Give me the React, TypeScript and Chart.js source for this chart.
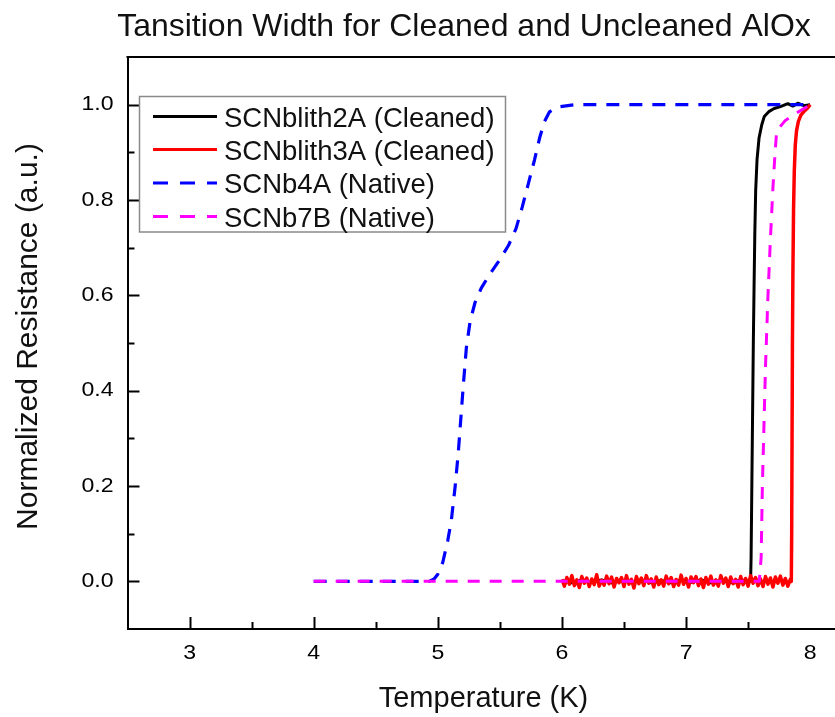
import React, { useEffect, useRef } from 'react';
import { Chart, registerables } from 'chart.js';

Chart.register(...registerables);

// ---------------- data ----------------
const TITLE = 'Tansition Width for Cleaned and Uncleaned AlOx';
const X_TITLE = 'Temperature (K)';
const Y_TITLE = 'Normalized Resistance (a.u.)';

const X_MIN = 2.5;
const X_MAX = 8.2;
const X_STEP = 0.5;
const Y_MIN = -0.1;
const Y_MAX = 1.1;
const Y_STEP = 0.1;

const X_MAJOR = [3, 4, 5, 6, 7, 8];
const X_LABELS = ['3', '4', '5', '6', '7', '8'];
const Y_MAJOR = [0, 0.2, 0.4, 0.6, 0.8, 1.0];
const Y_LABELS = ['0.0', '0.2', '0.4', '0.6', '0.8', '1.0'];

const NAMES = [
  'SCNblith2A (Cleaned)',
  'SCNblith3A (Cleaned)',
  'SCNb4A (Native)',
  'SCNb7B (Native)',
];

// [temperature K, normalized resistance]
const SCNblith2A: [number, number][] = [
  [6.00, 0.002], [6.08, -0.003], [6.16, 0.003], [6.24, -0.002], [6.32, 0.003],
  [6.40, -0.003], [6.48, 0.002], [6.56, -0.002], [6.64, 0.003], [6.72, -0.003],
  [6.80, 0.002], [6.88, -0.003], [6.96, 0.003], [7.04, -0.002], [7.12, 0.003],
  [7.20, -0.003], [7.28, 0.002], [7.36, -0.003], [7.44, 0.003], [7.52, 0.0],
  [7.524, 0.05], [7.53, 0.2], [7.536, 0.35], [7.542, 0.5], [7.548, 0.62],
  [7.554, 0.73], [7.561, 0.82], [7.572, 0.885], [7.588, 0.93], [7.61, 0.958],
  [7.63, 0.975], [7.67, 0.986], [7.71, 0.992], [7.76, 0.996], [7.82, 1.002],
  [7.86, 0.997], [7.90, 1.003], [7.95, 0.998], [8.00, 1.0],
];

const SCNblith3A: [number, number][] = [
  [6.00, 0.004], [6.02, -0.010], [6.04, 0.008], [6.06, -0.006], [6.08, 0.012],
  [6.10, -0.009], [6.12, 0.003], [6.14, -0.013], [6.16, 0.010], [6.18, -0.004],
  [6.20, 0.007], [6.22, -0.011], [6.24, 0.005], [6.26, -0.007], [6.28, 0.014],
  [6.30, -0.010], [6.32, 0.002], [6.34, -0.008], [6.36, 0.011], [6.38, -0.005],
  [6.40, 0.009], [6.42, -0.012], [6.44, 0.006], [6.46, -0.003], [6.48, 0.008],
  [6.50, -0.011], [6.52, 0.012], [6.54, -0.006], [6.56, 0.004], [6.58, -0.014],
  [6.60, 0.010], [6.62, -0.005], [6.64, 0.007], [6.66, -0.009], [6.68, 0.012],
  [6.70, -0.004], [6.72, 0.005], [6.74, -0.012], [6.76, 0.009], [6.78, -0.007],
  [6.80, 0.003], [6.82, -0.010], [6.84, 0.011], [6.86, -0.005], [6.88, 0.008],
  [6.90, -0.011], [6.92, 0.004], [6.94, -0.008], [6.96, 0.013], [6.98, -0.006],
  [7.00, 0.006], [7.02, -0.012], [7.04, 0.009], [7.06, -0.003], [7.08, 0.010],
  [7.10, -0.009], [7.12, 0.005], [7.14, -0.013], [7.16, 0.008], [7.18, -0.006],
  [7.20, 0.011], [7.22, -0.008], [7.24, 0.003], [7.26, -0.010], [7.28, 0.012],
  [7.30, -0.004], [7.32, 0.007], [7.34, -0.011], [7.36, 0.009], [7.38, -0.005],
  [7.40, 0.004], [7.42, -0.012], [7.44, 0.010], [7.46, -0.007], [7.48, 0.006],
  [7.50, -0.010], [7.52, 0.012], [7.54, -0.004], [7.56, 0.008], [7.58, -0.009],
  [7.60, 0.005], [7.62, -0.011], [7.64, 0.010], [7.66, -0.006], [7.68, 0.007],
  [7.70, -0.012], [7.72, 0.009], [7.74, -0.004], [7.76, 0.011], [7.78, -0.008],
  [7.80, 0.006], [7.82, -0.010], [7.84, 0.004],
  [7.848, 0.0], [7.851, 0.1], [7.854, 0.3], [7.857, 0.5], [7.861, 0.65],
  [7.866, 0.78], [7.872, 0.86], [7.880, 0.915], [7.890, 0.945], [7.905, 0.965],
  [7.925, 0.978], [7.950, 0.986], [7.980, 0.993], [8.00, 1.0],
];

const SCNb4A: [number, number][] = [
  [4.00, 0], [4.50, 0], [4.93, 0], [4.97, 0.005], [5.00, 0.015], [5.04, 0.04],
  [5.08, 0.085], [5.11, 0.13], [5.14, 0.2], [5.165, 0.27], [5.185, 0.34],
  [5.205, 0.41], [5.23, 0.49], [5.26, 0.545], [5.30, 0.585], [5.35, 0.615],
  [5.42, 0.645], [5.50, 0.675], [5.57, 0.705], [5.63, 0.74], [5.68, 0.785],
  [5.73, 0.835], [5.78, 0.885], [5.82, 0.93], [5.86, 0.965], [5.90, 0.985],
  [5.96, 0.995], [6.10, 1.0], [7.00, 1.0], [8.00, 1.0],
];

const SCNb7B: [number, number][] = [
  [4.00, 0], [5.00, 0], [6.00, 0], [7.00, 0], [7.59, 0], [7.605, 0.05],
  [7.615, 0.2], [7.625, 0.3], [7.64, 0.45], [7.66, 0.6], [7.68, 0.72],
  [7.70, 0.826], [7.715, 0.89], [7.73, 0.945], [7.80, 0.967], [7.90, 0.984],
  [8.00, 1.0],
];

// ---------------- helpers ----------------
const FONT = '"Liberation Sans", Arial, Helvetica, sans-serif';
const SOLID = [100000, 0];

const toXY = (arr: [number, number][]) => arr.map(([x, y]) => ({ x, y }));

const near = (a: number, b: number) => Math.abs(a - b) < 1e-6;

const decorPlugin = {
  id: 'decor',
  afterDraw(chart: any) {
    const { ctx, chartArea: a } = chart;
    const xs = chart.scales.x;
    const ys = chart.scales.y;
    ctx.save();

    // top frame line
    ctx.strokeStyle = '#000';
    ctx.lineWidth = 2;
    ctx.lineCap = 'butt';
    ctx.beginPath();
    ctx.moveTo(a.left - 1, a.top);
    ctx.lineTo(a.right, a.top);
    ctx.stroke();

    // inward ticks on x axis
    xs.ticks.forEach((t: any) => {
      const v = t.value;
      if (near(v, X_MIN) || near(v, X_MAX)) return;
      const major = X_MAJOR.some((m) => near(m, v));
      const px = Math.round(xs.getPixelForValue(v)) + 0.5;
      ctx.beginPath();
      ctx.moveTo(px, a.bottom);
      ctx.lineTo(px, a.bottom - (major ? 12 : 7));
      ctx.stroke();
    });
    // inward ticks on y axis
    ys.ticks.forEach((t: any) => {
      const v = t.value;
      if (near(v, Y_MIN) || near(v, Y_MAX)) return;
      const major = Y_MAJOR.some((m) => near(m, v));
      const py = Math.round(ys.getPixelForValue(v)) + 0.5;
      ctx.beginPath();
      ctx.moveTo(a.left, py);
      ctx.lineTo(a.left + (major ? 12 : 7), py);
      ctx.stroke();
    });

    // tick labels
    ctx.fillStyle = '#000';
    ctx.font = `21px ${FONT}`;
    ctx.textBaseline = 'middle';
    X_MAJOR.forEach((v, i) => {
      const px = xs.getPixelForValue(v);
      ctx.save();
      ctx.translate(px, a.bottom + 24);
      ctx.scale(1.1, 1);
      ctx.textAlign = 'center';
      ctx.fillText(X_LABELS[i], 0, 0);
      ctx.restore();
    });
    Y_MAJOR.forEach((v, i) => {
      const py = ys.getPixelForValue(v);
      ctx.save();
      ctx.translate(a.left - 14, py);
      ctx.scale(1.1, 1);
      ctx.textAlign = 'right';
      ctx.fillText(Y_LABELS[i], 0, 0);
      ctx.restore();
    });

    // chart title
    ctx.fillStyle = '#111';
    ctx.textBaseline = 'alphabetic';
    ctx.textAlign = 'center';
    ctx.font = `32px ${FONT}`;
    ctx.fillText(TITLE, 464, 36);

    // x axis title
    ctx.font = `29px ${FONT}`;
    ctx.fillText(X_TITLE, 483.5, 707);

    // y axis title
    ctx.save();
    ctx.translate(37, 336.5);
    ctx.rotate(-Math.PI / 2);
    ctx.font = `30px ${FONT}`;
    ctx.fillText(Y_TITLE, 0, 0);
    ctx.restore();

    // legend box
    const bx = 139.5, by = 96.5, bw = 366, bh = 135.5;
    ctx.fillStyle = '#fff';
    ctx.fillRect(bx, by, bw, bh);
    ctx.strokeStyle = '#8a8a8a';
    ctx.lineWidth = 1.5;
    ctx.setLineDash([]);
    ctx.strokeRect(bx, by, bw, bh);

    const rows = [116.5, 149.5, 183, 216.5];
    chart.data.datasets.forEach((ds: any, i: number) => {
      const ry = rows[i];
      const dashed = ds.borderDash && ds.borderDash[1] > 0;
      ctx.save();
      ctx.strokeStyle = ds.borderColor;
      ctx.lineWidth = 3;
      ctx.setLineDash(dashed ? [15, 12] : []);
      ctx.beginPath();
      ctx.moveTo(153, ry);
      ctx.lineTo(217, ry);
      ctx.stroke();
      ctx.restore();
      ctx.fillStyle = '#111';
      ctx.font = `27.5px ${FONT}`;
      ctx.textAlign = 'left';
      ctx.textBaseline = 'alphabetic';
      ctx.fillText(ds.label, 224, ry + 10);
    });

    ctx.restore();
  },
};

export default function App() {
  const ref = useRef<HTMLCanvasElement | null>(null);

  useEffect(() => {
    if (!ref.current) return;
    const chart = new Chart(ref.current, {
      type: 'line',
      data: {
        datasets: [
          {
            label: NAMES[0],
            data: toXY(SCNblith2A),
            borderColor: '#000000',
            borderWidth: 3,
            borderDash: SOLID,
            order: 3,
          },
          {
            label: NAMES[1],
            data: toXY(SCNblith3A),
            borderColor: '#ff0000',
            borderWidth: 3.5,
            borderDash: SOLID,
            order: 2,
          },
          {
            label: NAMES[2],
            data: toXY(SCNb4A),
            borderColor: '#0000ff',
            borderWidth: 3.2,
            borderDash: [13, 10],
            order: 1,
          },
          {
            label: NAMES[3],
            data: toXY(SCNb7B),
            borderColor: '#ff00ff',
            borderWidth: 3,
            borderDash: [12, 10],
            order: 0,
          },
        ] as any,
      },
      options: {
        animation: false,
        responsive: false,
        parsing: false as any,
        normalized: true,
        layout: { padding: { top: 57, left: 0, right: 0, bottom: 0 } },
        elements: {
          point: { radius: 0, hoverRadius: 0 },
          line: { tension: 0, fill: false, borderCapStyle: 'butt', borderJoinStyle: 'round' },
        },
        plugins: {
          legend: { display: false },
          title: { display: false },
          tooltip: { enabled: false },
        },
        events: [],
        scales: {
          x: {
            type: 'linear',
            min: X_MIN,
            max: X_MAX,
            ticks: { display: false, stepSize: X_STEP, autoSkip: false },
            grid: { display: false },
            border: { display: true, color: '#000', width: 2 },
            afterFit: (s: any) => {
              s.height = 88;
            },
          },
          y: {
            type: 'linear',
            min: Y_MIN,
            max: Y_MAX,
            ticks: { display: false, stepSize: Y_STEP, autoSkip: false },
            grid: { display: false },
            border: { display: true, color: '#000', width: 2 },
            afterFit: (s: any) => {
              s.width = 127.5;
            },
          },
        },
      } as any,
      plugins: [decorPlugin],
    });
    return () => chart.destroy();
  }, []);

  return (
    <div
      style={{
        position: 'fixed',
        left: 0,
        top: 0,
        width: 835,
        height: 717,
        background: '#fff',
        overflow: 'hidden',
      }}
    >
      <canvas ref={ref} width={835} height={717} style={{ display: 'block' }} />
    </div>
  );
}
